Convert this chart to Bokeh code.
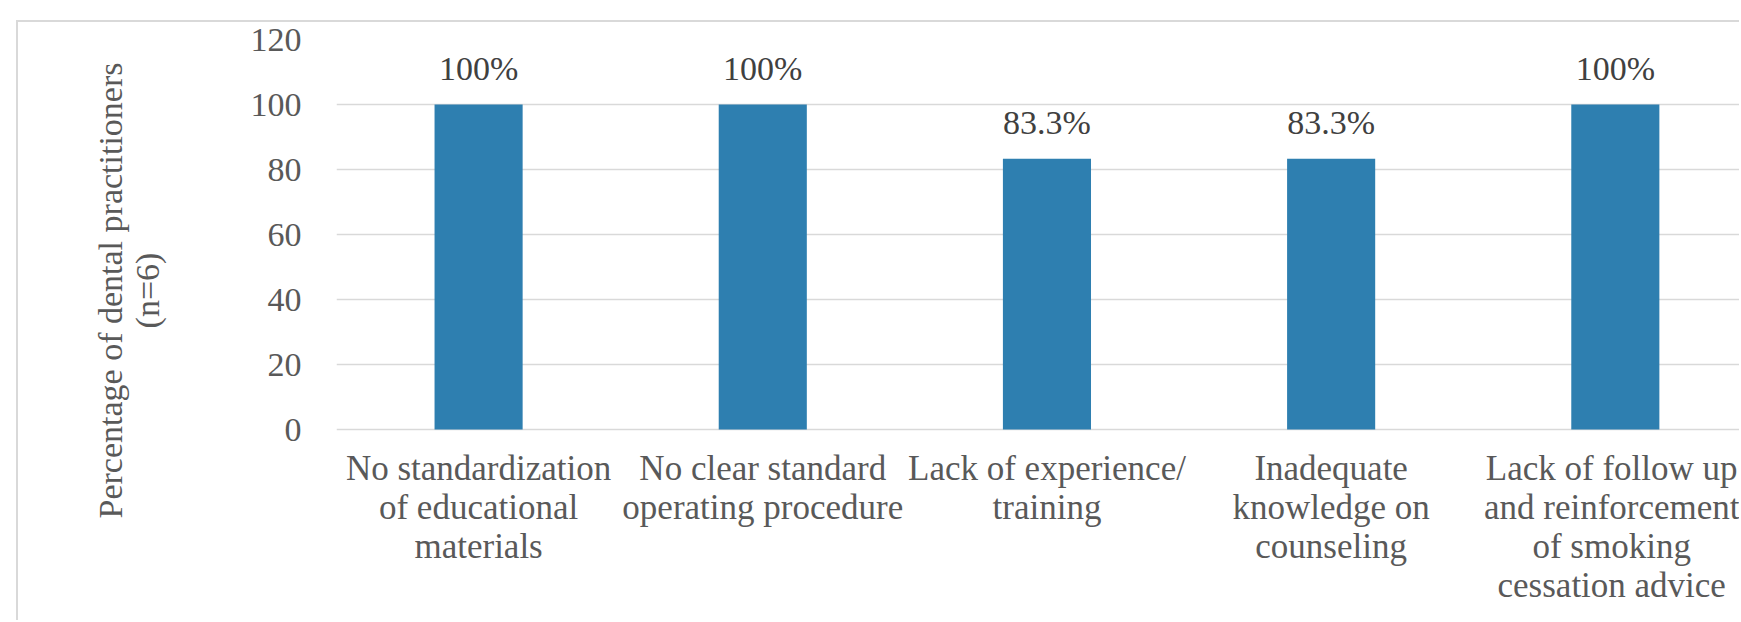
from bokeh.embed import file_html
from bokeh.models import ColumnDataSource, FixedTicker, LabelSet, Range1d
from bokeh.plotting import figure
from bokeh.resources import INLINE

# Barriers reported by dental practitioners (n=6)
categories = [
    "No standardization\nof educational\nmaterials",
    "No clear standard\noperating procedure",
    "Lack of experience/\ntraining",
    "Inadequate\nknowledge on\ncounseling",
    "Lack of follow up\nand reinforcement\nof smoking\ncessation advice",
]
percentages = [100, 100, 83.3, 83.3, 100]
y_ticks = [0, 20, 40, 60, 80, 100, 120]
y_title = "Percentage of dental practitioners\n(n=6)"

SERIF = "Liberation Serif"
TEXT = "#595959"
GRID = "#d9d9d9"
BAR = "#2E7FB0"

positions = list(range(1, len(categories) + 1))
source = ColumnDataSource(dict(
    x=positions,
    top=percentages,
    label=[f"{v:g}%" for v in percentages],
))

# The value range reaches below zero so that the frame also spans the
# category-label band; ticks and grid lines stay on 0..120.
p = figure(
    width=1723, height=600,
    output_backend="svg", toolbar_location=None,
    x_range=Range1d(0.5, 5.444), y_range=Range1d(-34.46, 120),
    min_border_left=318, min_border_right=0,
    min_border_top=17, min_border_bottom=81,
    background_fill_color="white", border_fill_color="white",
)
p.outline_line_color = None
p.margin = (20, 0, 0, 16)
p.styles = {"border-left": f"2px solid {GRID}", "border-top": f"2px solid {GRID}"}

p.vbar(x="x", top="top", width=0.31, bottom=0, source=source,
       fill_color=BAR, line_color=None)

p.add_layout(LabelSet(
    x="x", y="top", text="label", source=source,
    text_font=SERIF, text_font_style="normal", text_font_size="34px",
    text_color="#404040", text_align="center", text_baseline="alphabetic",
    y_offset=25,
))

# y axis
p.yaxis.ticker = FixedTicker(ticks=y_ticks)
p.yaxis.axis_line_color = None
p.yaxis.major_tick_line_color = None
p.yaxis.minor_tick_line_color = None
p.yaxis.major_label_standoff = 29
p.yaxis.major_label_text_font = SERIF
p.yaxis.major_label_text_font_size = "34px"
p.yaxis.major_label_text_color = TEXT

p.yaxis.axis_label = y_title
p.yaxis.axis_label_text_font = SERIF
p.yaxis.axis_label_text_font_style = "normal"
p.yaxis.axis_label_text_font_size = "34px"
p.yaxis.axis_label_text_color = TEXT
p.yaxis.axis_label_text_line_height = 1.0
p.yaxis.axis_label_standoff = 82

# horizontal grid; the line at 0 doubles as the category axis line
p.ygrid.ticker = FixedTicker(ticks=y_ticks)
p.ygrid.grid_line_color = GRID
p.ygrid.grid_line_width = 1.5
p.xgrid.grid_line_color = None

# x axis: only the multi-line category labels, pulled up under the zero line
p.xaxis.ticker = FixedTicker(ticks=positions)
p.xaxis.major_label_overrides = {pos: cat for pos, cat in zip(positions, categories)}
p.xaxis.axis_line_color = None
p.xaxis.major_tick_line_color = None
p.xaxis.minor_tick_line_color = None
p.xaxis.major_label_standoff = -99
p.xaxis.major_label_text_font = SERIF
p.xaxis.major_label_text_font_size = "35px"
p.xaxis.major_label_text_line_height = 1.0
p.xaxis.major_label_text_color = TEXT

open("out.html", "w").write(file_html(p, INLINE))
